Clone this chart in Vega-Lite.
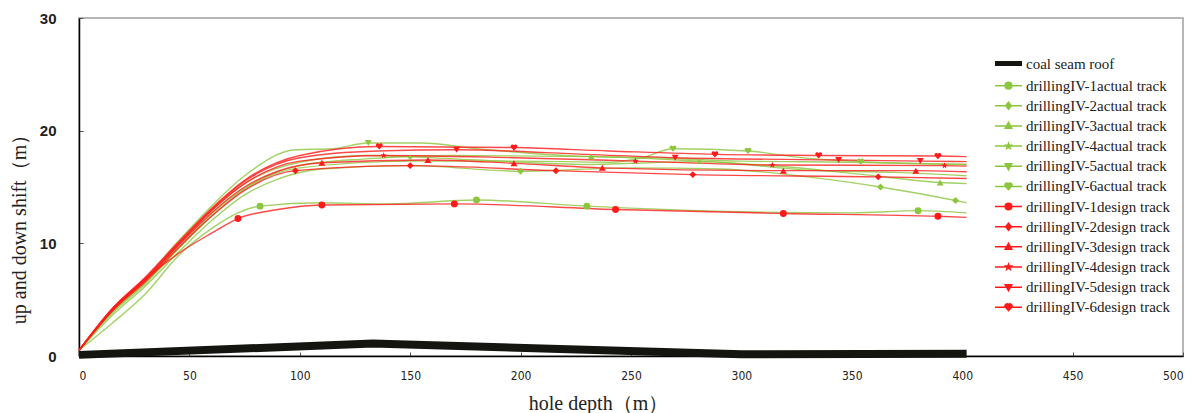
{
  "$schema": "https://vega.github.io/schema/vega-lite/v6.json",
  "width": 1104,
  "height": 338,
  "autosize": {"type": "none"},
  "padding": {"left": 79, "top": 18, "right": 17, "bottom": 57},
  "config": {
    "view": {"stroke": "#a0a0a0", "strokeWidth": 1.5},
    "axis": {"grid": false, "domainColor": "#000", "domainWidth": 1.5, "tickColor": "#555", "titleFontWeight": "normal", "titleColor": "#222", "labelColor": "#222"}
  },
  "datasets": {
    "coal": [
      {"series": "coal seam roof", "depth": 0, "shift": 0.1},
      {"series": "coal seam roof", "depth": 133, "shift": 1.1},
      {"series": "coal seam roof", "depth": 300, "shift": 0.15},
      {"series": "coal seam roof", "depth": 402, "shift": 0.2}
    ],
    "tracks": [
      {"series": "drillingIV-1actual track", "depth": 0, "shift": 0.5},
      {"series": "drillingIV-1actual track", "depth": 15, "shift": 2.9},
      {"series": "drillingIV-1actual track", "depth": 30, "shift": 5.5},
      {"series": "drillingIV-1actual track", "depth": 45, "shift": 8.9},
      {"series": "drillingIV-1actual track", "depth": 60, "shift": 11.3},
      {"series": "drillingIV-1actual track", "depth": 72, "shift": 12.7},
      {"series": "drillingIV-1actual track", "depth": 82, "shift": 13.3},
      {"series": "drillingIV-1actual track", "depth": 110, "shift": 13.6},
      {"series": "drillingIV-1actual track", "depth": 140, "shift": 13.5},
      {"series": "drillingIV-1actual track", "depth": 180, "shift": 13.85},
      {"series": "drillingIV-1actual track", "depth": 230, "shift": 13.3},
      {"series": "drillingIV-1actual track", "depth": 300, "shift": 12.8},
      {"series": "drillingIV-1actual track", "depth": 350, "shift": 12.7},
      {"series": "drillingIV-1actual track", "depth": 380, "shift": 12.9},
      {"series": "drillingIV-1actual track", "depth": 402, "shift": 12.7},

      {"series": "drillingIV-2actual track", "depth": 0, "shift": 0.5},
      {"series": "drillingIV-2actual track", "depth": 15, "shift": 3.6},
      {"series": "drillingIV-2actual track", "depth": 30, "shift": 6.2},
      {"series": "drillingIV-2actual track", "depth": 45, "shift": 9.2},
      {"series": "drillingIV-2actual track", "depth": 60, "shift": 12.0},
      {"series": "drillingIV-2actual track", "depth": 75, "shift": 14.3},
      {"series": "drillingIV-2actual track", "depth": 90, "shift": 15.7},
      {"series": "drillingIV-2actual track", "depth": 110, "shift": 16.6},
      {"series": "drillingIV-2actual track", "depth": 150, "shift": 16.9},
      {"series": "drillingIV-2actual track", "depth": 200, "shift": 16.4},
      {"series": "drillingIV-2actual track", "depth": 250, "shift": 16.7},
      {"series": "drillingIV-2actual track", "depth": 290, "shift": 16.6},
      {"series": "drillingIV-2actual track", "depth": 330, "shift": 15.9},
      {"series": "drillingIV-2actual track", "depth": 363, "shift": 15.0},
      {"series": "drillingIV-2actual track", "depth": 397, "shift": 13.8},
      {"series": "drillingIV-2actual track", "depth": 402, "shift": 13.6},

      {"series": "drillingIV-3actual track", "depth": 0, "shift": 0.5},
      {"series": "drillingIV-3actual track", "depth": 15, "shift": 3.9},
      {"series": "drillingIV-3actual track", "depth": 30, "shift": 6.5},
      {"series": "drillingIV-3actual track", "depth": 45, "shift": 9.6},
      {"series": "drillingIV-3actual track", "depth": 60, "shift": 12.6},
      {"series": "drillingIV-3actual track", "depth": 75, "shift": 14.9},
      {"series": "drillingIV-3actual track", "depth": 100, "shift": 16.9},
      {"series": "drillingIV-3actual track", "depth": 130, "shift": 17.5},
      {"series": "drillingIV-3actual track", "depth": 170, "shift": 17.8},
      {"series": "drillingIV-3actual track", "depth": 232, "shift": 17.7},
      {"series": "drillingIV-3actual track", "depth": 280, "shift": 17.3},
      {"series": "drillingIV-3actual track", "depth": 320, "shift": 16.8},
      {"series": "drillingIV-3actual track", "depth": 360, "shift": 16.0},
      {"series": "drillingIV-3actual track", "depth": 390, "shift": 15.4},
      {"series": "drillingIV-3actual track", "depth": 402, "shift": 15.3},

      {"series": "drillingIV-4actual track", "depth": 0, "shift": 0.5},
      {"series": "drillingIV-4actual track", "depth": 15, "shift": 4.0},
      {"series": "drillingIV-4actual track", "depth": 30, "shift": 6.7},
      {"series": "drillingIV-4actual track", "depth": 45, "shift": 9.9},
      {"series": "drillingIV-4actual track", "depth": 60, "shift": 12.9},
      {"series": "drillingIV-4actual track", "depth": 75, "shift": 15.3},
      {"series": "drillingIV-4actual track", "depth": 100, "shift": 17.2},
      {"series": "drillingIV-4actual track", "depth": 130, "shift": 17.8},
      {"series": "drillingIV-4actual track", "depth": 180, "shift": 17.4},
      {"series": "drillingIV-4actual track", "depth": 230, "shift": 17.0},
      {"series": "drillingIV-4actual track", "depth": 281, "shift": 17.25},
      {"series": "drillingIV-4actual track", "depth": 330, "shift": 16.5},
      {"series": "drillingIV-4actual track", "depth": 370, "shift": 16.3},
      {"series": "drillingIV-4actual track", "depth": 402, "shift": 16.0},

      {"series": "drillingIV-5actual track", "depth": 0, "shift": 0.5},
      {"series": "drillingIV-5actual track", "depth": 15, "shift": 4.1},
      {"series": "drillingIV-5actual track", "depth": 30, "shift": 6.9},
      {"series": "drillingIV-5actual track", "depth": 45, "shift": 10.2},
      {"series": "drillingIV-5actual track", "depth": 60, "shift": 13.3},
      {"series": "drillingIV-5actual track", "depth": 75, "shift": 16.0},
      {"series": "drillingIV-5actual track", "depth": 98, "shift": 18.3},
      {"series": "drillingIV-5actual track", "depth": 115, "shift": 18.4},
      {"series": "drillingIV-5actual track", "depth": 131, "shift": 18.9},
      {"series": "drillingIV-5actual track", "depth": 155, "shift": 18.9},
      {"series": "drillingIV-5actual track", "depth": 180, "shift": 18.4},
      {"series": "drillingIV-5actual track", "depth": 220, "shift": 17.8},
      {"series": "drillingIV-5actual track", "depth": 260, "shift": 17.6},
      {"series": "drillingIV-5actual track", "depth": 300, "shift": 17.3},
      {"series": "drillingIV-5actual track", "depth": 350, "shift": 17.2},
      {"series": "drillingIV-5actual track", "depth": 402, "shift": 17.0},

      {"series": "drillingIV-6actual track", "depth": 0, "shift": 0.5},
      {"series": "drillingIV-6actual track", "depth": 15, "shift": 3.8},
      {"series": "drillingIV-6actual track", "depth": 30, "shift": 6.4},
      {"series": "drillingIV-6actual track", "depth": 45, "shift": 9.5},
      {"series": "drillingIV-6actual track", "depth": 60, "shift": 12.4},
      {"series": "drillingIV-6actual track", "depth": 75, "shift": 14.8},
      {"series": "drillingIV-6actual track", "depth": 100, "shift": 16.7},
      {"series": "drillingIV-6actual track", "depth": 150, "shift": 17.3},
      {"series": "drillingIV-6actual track", "depth": 200, "shift": 17.3},
      {"series": "drillingIV-6actual track", "depth": 240, "shift": 17.2},
      {"series": "drillingIV-6actual track", "depth": 255, "shift": 17.6},
      {"series": "drillingIV-6actual track", "depth": 269, "shift": 18.4},
      {"series": "drillingIV-6actual track", "depth": 303, "shift": 18.2},
      {"series": "drillingIV-6actual track", "depth": 323, "shift": 17.7},
      {"series": "drillingIV-6actual track", "depth": 354, "shift": 17.25},
      {"series": "drillingIV-6actual track", "depth": 402, "shift": 17.0},

      {"series": "drillingIV-1design track", "depth": 0, "shift": 0.5},
      {"series": "drillingIV-1design track", "depth": 15, "shift": 4.0},
      {"series": "drillingIV-1design track", "depth": 30, "shift": 6.8},
      {"series": "drillingIV-1design track", "depth": 45, "shift": 9.1},
      {"series": "drillingIV-1design track", "depth": 60, "shift": 10.9},
      {"series": "drillingIV-1design track", "depth": 72, "shift": 12.2},
      {"series": "drillingIV-1design track", "depth": 90, "shift": 13.0},
      {"series": "drillingIV-1design track", "depth": 110, "shift": 13.4},
      {"series": "drillingIV-1design track", "depth": 170, "shift": 13.5},
      {"series": "drillingIV-1design track", "depth": 243, "shift": 13.0},
      {"series": "drillingIV-1design track", "depth": 319, "shift": 12.65},
      {"series": "drillingIV-1design track", "depth": 389, "shift": 12.4},
      {"series": "drillingIV-1design track", "depth": 402, "shift": 12.3},

      {"series": "drillingIV-2design track", "depth": 0, "shift": 0.5},
      {"series": "drillingIV-2design track", "depth": 15, "shift": 4.0},
      {"series": "drillingIV-2design track", "depth": 30, "shift": 6.6},
      {"series": "drillingIV-2design track", "depth": 45, "shift": 9.6},
      {"series": "drillingIV-2design track", "depth": 60, "shift": 12.4},
      {"series": "drillingIV-2design track", "depth": 75, "shift": 14.7},
      {"series": "drillingIV-2design track", "depth": 98, "shift": 16.45},
      {"series": "drillingIV-2design track", "depth": 150, "shift": 16.9},
      {"series": "drillingIV-2design track", "depth": 216, "shift": 16.45},
      {"series": "drillingIV-2design track", "depth": 278, "shift": 16.1},
      {"series": "drillingIV-2design track", "depth": 362, "shift": 15.9},
      {"series": "drillingIV-2design track", "depth": 402, "shift": 15.75},

      {"series": "drillingIV-3design track", "depth": 0, "shift": 0.5},
      {"series": "drillingIV-3design track", "depth": 15, "shift": 4.1},
      {"series": "drillingIV-3design track", "depth": 30, "shift": 6.7},
      {"series": "drillingIV-3design track", "depth": 45, "shift": 9.8},
      {"series": "drillingIV-3design track", "depth": 60, "shift": 12.7},
      {"series": "drillingIV-3design track", "depth": 75, "shift": 15.0},
      {"series": "drillingIV-3design track", "depth": 90, "shift": 16.4},
      {"series": "drillingIV-3design track", "depth": 110, "shift": 17.15},
      {"series": "drillingIV-3design track", "depth": 158, "shift": 17.4},
      {"series": "drillingIV-3design track", "depth": 197, "shift": 17.1},
      {"series": "drillingIV-3design track", "depth": 237, "shift": 16.7},
      {"series": "drillingIV-3design track", "depth": 319, "shift": 16.45},
      {"series": "drillingIV-3design track", "depth": 379, "shift": 16.45},
      {"series": "drillingIV-3design track", "depth": 402, "shift": 16.35},

      {"series": "drillingIV-4design track", "depth": 0, "shift": 0.5},
      {"series": "drillingIV-4design track", "depth": 15, "shift": 4.1},
      {"series": "drillingIV-4design track", "depth": 30, "shift": 6.8},
      {"series": "drillingIV-4design track", "depth": 45, "shift": 9.9},
      {"series": "drillingIV-4design track", "depth": 60, "shift": 12.9},
      {"series": "drillingIV-4design track", "depth": 75, "shift": 15.3},
      {"series": "drillingIV-4design track", "depth": 100, "shift": 17.3},
      {"series": "drillingIV-4design track", "depth": 138, "shift": 17.8},
      {"series": "drillingIV-4design track", "depth": 197, "shift": 17.6},
      {"series": "drillingIV-4design track", "depth": 252, "shift": 17.3},
      {"series": "drillingIV-4design track", "depth": 314, "shift": 16.95},
      {"series": "drillingIV-4design track", "depth": 392, "shift": 16.9},
      {"series": "drillingIV-4design track", "depth": 402, "shift": 16.85},

      {"series": "drillingIV-5design track", "depth": 0, "shift": 0.5},
      {"series": "drillingIV-5design track", "depth": 15, "shift": 4.2},
      {"series": "drillingIV-5design track", "depth": 30, "shift": 6.9},
      {"series": "drillingIV-5design track", "depth": 45, "shift": 10.0},
      {"series": "drillingIV-5design track", "depth": 60, "shift": 13.0},
      {"series": "drillingIV-5design track", "depth": 75, "shift": 15.5},
      {"series": "drillingIV-5design track", "depth": 100, "shift": 17.6},
      {"series": "drillingIV-5design track", "depth": 135, "shift": 18.2},
      {"series": "drillingIV-5design track", "depth": 171, "shift": 18.3},
      {"series": "drillingIV-5design track", "depth": 230, "shift": 17.9},
      {"series": "drillingIV-5design track", "depth": 270, "shift": 17.6},
      {"series": "drillingIV-5design track", "depth": 344, "shift": 17.4},
      {"series": "drillingIV-5design track", "depth": 381, "shift": 17.3},
      {"series": "drillingIV-5design track", "depth": 402, "shift": 17.25},

      {"series": "drillingIV-6design track", "depth": 0, "shift": 0.5},
      {"series": "drillingIV-6design track", "depth": 15, "shift": 4.2},
      {"series": "drillingIV-6design track", "depth": 30, "shift": 7.0},
      {"series": "drillingIV-6design track", "depth": 45, "shift": 10.1},
      {"series": "drillingIV-6design track", "depth": 60, "shift": 13.1},
      {"series": "drillingIV-6design track", "depth": 75, "shift": 15.6},
      {"series": "drillingIV-6design track", "depth": 100, "shift": 17.8},
      {"series": "drillingIV-6design track", "depth": 136, "shift": 18.6},
      {"series": "drillingIV-6design track", "depth": 197, "shift": 18.5},
      {"series": "drillingIV-6design track", "depth": 240, "shift": 18.2},
      {"series": "drillingIV-6design track", "depth": 288, "shift": 17.9},
      {"series": "drillingIV-6design track", "depth": 335, "shift": 17.8},
      {"series": "drillingIV-6design track", "depth": 389, "shift": 17.75},
      {"series": "drillingIV-6design track", "depth": 402, "shift": 17.7}
    ],
    "markers": [
      {"series": "drillingIV-1actual track", "depth": 82, "shift": 13.3},
      {"series": "drillingIV-1actual track", "depth": 180, "shift": 13.85},
      {"series": "drillingIV-1actual track", "depth": 230, "shift": 13.3},
      {"series": "drillingIV-1actual track", "depth": 380, "shift": 12.9},
      {"series": "drillingIV-2actual track", "depth": 200, "shift": 16.4},
      {"series": "drillingIV-2actual track", "depth": 363, "shift": 15.0},
      {"series": "drillingIV-2actual track", "depth": 397, "shift": 13.8},
      {"series": "drillingIV-3actual track", "depth": 232, "shift": 17.7},
      {"series": "drillingIV-3actual track", "depth": 390, "shift": 15.4},
      {"series": "drillingIV-4actual track", "depth": 150, "shift": 17.6},
      {"series": "drillingIV-4actual track", "depth": 281, "shift": 17.25},
      {"series": "drillingIV-5actual track", "depth": 131, "shift": 18.9},
      {"series": "drillingIV-6actual track", "depth": 269, "shift": 18.4},
      {"series": "drillingIV-6actual track", "depth": 303, "shift": 18.2},
      {"series": "drillingIV-6actual track", "depth": 354, "shift": 17.25},
      {"series": "drillingIV-1design track", "depth": 72, "shift": 12.2},
      {"series": "drillingIV-1design track", "depth": 110, "shift": 13.4},
      {"series": "drillingIV-1design track", "depth": 170, "shift": 13.5},
      {"series": "drillingIV-1design track", "depth": 243, "shift": 13.0},
      {"series": "drillingIV-1design track", "depth": 319, "shift": 12.65},
      {"series": "drillingIV-1design track", "depth": 389, "shift": 12.4},
      {"series": "drillingIV-2design track", "depth": 98, "shift": 16.45},
      {"series": "drillingIV-2design track", "depth": 150, "shift": 16.9},
      {"series": "drillingIV-2design track", "depth": 216, "shift": 16.45},
      {"series": "drillingIV-2design track", "depth": 278, "shift": 16.1},
      {"series": "drillingIV-2design track", "depth": 362, "shift": 15.9},
      {"series": "drillingIV-3design track", "depth": 110, "shift": 17.15},
      {"series": "drillingIV-3design track", "depth": 158, "shift": 17.4},
      {"series": "drillingIV-3design track", "depth": 197, "shift": 17.1},
      {"series": "drillingIV-3design track", "depth": 237, "shift": 16.7},
      {"series": "drillingIV-3design track", "depth": 319, "shift": 16.45},
      {"series": "drillingIV-3design track", "depth": 379, "shift": 16.45},
      {"series": "drillingIV-4design track", "depth": 138, "shift": 17.8},
      {"series": "drillingIV-4design track", "depth": 252, "shift": 17.3},
      {"series": "drillingIV-4design track", "depth": 314, "shift": 16.95},
      {"series": "drillingIV-4design track", "depth": 392, "shift": 16.9},
      {"series": "drillingIV-5design track", "depth": 171, "shift": 18.3},
      {"series": "drillingIV-5design track", "depth": 270, "shift": 17.6},
      {"series": "drillingIV-5design track", "depth": 344, "shift": 17.4},
      {"series": "drillingIV-5design track", "depth": 381, "shift": 17.3},
      {"series": "drillingIV-6design track", "depth": 136, "shift": 18.6},
      {"series": "drillingIV-6design track", "depth": 197, "shift": 18.5},
      {"series": "drillingIV-6design track", "depth": 288, "shift": 17.9},
      {"series": "drillingIV-6design track", "depth": 335, "shift": 17.8},
      {"series": "drillingIV-6design track", "depth": 389, "shift": 17.75}
    ]
  },
  "encoding": {
    "x": {"field": "depth", "type": "quantitative", "scale": {"domain": [0, 500], "nice": false},
      "axis": {"values": [0, 50, 100, 150, 200, 250, 300, 350, 400, 450, 500], "title": "hole depth（m）", "titleFont": "Liberation Serif", "titleFontSize": 20, "titleX": 519, "titleY": 53, "titleBaseline": "alphabetic", "labelFont": "Liberation Sans Narrow, DejaVu Sans Condensed, sans-serif", "labelFontSize": 12, "labelPadding": 18, "tickSize": -4}},
    "y": {"field": "shift", "type": "quantitative", "scale": {"domain": [0, 30], "nice": false},
      "axis": {"values": [0, 10, 20, 30], "title": "up and down shift（m）", "titleFont": "Liberation Serif", "titleFontSize": 20, "titleY": 206, "titlePadding": 10, "labelFont": "Liberation Sans", "labelFontWeight": "bold", "labelFontSize": 15, "labelPadding": 27, "tickSize": -4}},
    "color": {"field": "series", "type": "nominal",
      "scale": {
        "domain": ["coal seam roof", "drillingIV-1actual track", "drillingIV-2actual track", "drillingIV-3actual track", "drillingIV-4actual track", "drillingIV-5actual track", "drillingIV-6actual track", "drillingIV-1design track", "drillingIV-2design track", "drillingIV-3design track", "drillingIV-4design track", "drillingIV-5design track", "drillingIV-6design track"],
        "range": ["#141410", "#8cc63f", "#8cc63f", "#8cc63f", "#8cc63f", "#8cc63f", "#8cc63f", "#ff1a1a", "#ff1a1a", "#ff1a1a", "#ff1a1a", "#ff1a1a", "#ff1a1a"]
      },
      "legend": {
        "orient": "none", "legendX": 922, "legendY": 38, "title": null,
        "symbolSize": 400, "labelOffset": 10, "rowPadding": 4.15, "labelLimit": 300,
        "labelFont": "Liberation Serif", "labelFontSize": 15, "labelColor": "#222",
        "encode": {"symbols": {"update": {
          "shape": {"signal": "['M-1.35,0H1.35', 'M-1.35,0H1.35M0.33,0A0.33,0.33,0,1,1,-0.33,0A0.33,0.33,0,1,1,0.33,0', 'M-1.35,0H1.35M0,-0.36L0.28,0L0,0.36L-0.28,0Z', 'M-1.35,0H1.35M0,-0.36L0.33,0.24L-0.33,0.24Z', 'M-1.35,0H1.35M0,-0.28L0.07,-0.09L0.27,-0.09L0.11,0.04L0.17,0.23L0,0.11L-0.17,0.23L-0.11,0.04L-0.27,-0.09L-0.07,-0.09Z', 'M-1.35,0H1.35M0,0.36L0.33,-0.24L-0.33,-0.24Z', 'M-1.35,0H1.35M0,0.33L-0.33,-0.03A0.17,0.17,0,0,1,0,-0.24A0.17,0.17,0,0,1,0.33,-0.03Z'][indexof(domain('color'), datum.value) == 0 ? 0 : ((indexof(domain('color'), datum.value) - 1) % 6) + 1]"},
          "fill": {"signal": "scale('color', datum.value)"},
          "stroke": {"signal": "scale('color', datum.value)"},
          "strokeWidth": {"signal": "datum.value === 'coal seam roof' ? 5 : 1.5"},
          "opacity": {"value": 1}
        }}}
      }
    }
  },
  "layer": [
    {"data": {"name": "coal"}, "mark": {"type": "line", "strokeWidth": 8, "strokeCap": "butt", "interpolate": "linear"}},
    {"data": {"name": "tracks"}, "mark": {"type": "line", "strokeWidth": 1.4, "interpolate": "monotone", "opacity": 0.8}},
    {"data": {"name": "markers"}, "mark": {"type": "point", "filled": true, "size": 48, "opacity": 1},
      "encoding": {"shape": {"field": "series", "type": "nominal", "legend": null,
        "scale": {
          "domain": ["drillingIV-1actual track", "drillingIV-2actual track", "drillingIV-3actual track", "drillingIV-4actual track", "drillingIV-5actual track", "drillingIV-6actual track", "drillingIV-1design track", "drillingIV-2design track", "drillingIV-3design track", "drillingIV-4design track", "drillingIV-5design track", "drillingIV-6design track"],
          "range": ["circle", "diamond", "triangle-up", "M0,-1L0.24,-0.31L0.95,-0.31L0.38,0.12L0.59,0.81L0,0.4L-0.59,0.81L-0.38,0.12L-0.95,-0.31L-0.24,-0.31Z", "triangle-down", "M0,0.9L-0.9,-0.1A0.48,0.48,0,0,1,0,-0.65A0.48,0.48,0,0,1,0.9,-0.1Z", "circle", "diamond", "triangle-up", "M0,-1L0.24,-0.31L0.95,-0.31L0.38,0.12L0.59,0.81L0,0.4L-0.59,0.81L-0.38,0.12L-0.95,-0.31L-0.24,-0.31Z", "triangle-down", "M0,0.9L-0.9,-0.1A0.48,0.48,0,0,1,0,-0.65A0.48,0.48,0,0,1,0.9,-0.1Z"]
        }}}}
  ]
}
